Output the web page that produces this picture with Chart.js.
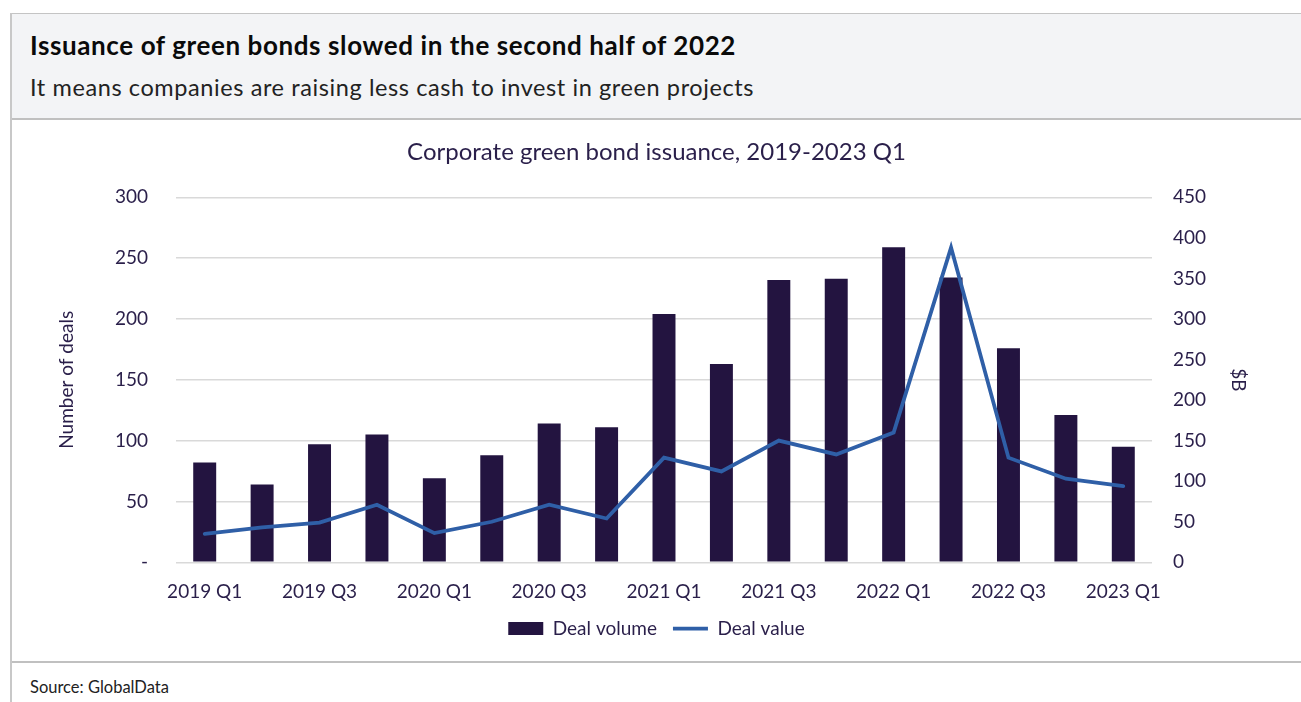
<!DOCTYPE html>
<html>
<head>
<meta charset="utf-8">
<script src="https://cdn.jsdelivr.net/npm/chart.js@4"></script>
<style>
  html, body { margin: 0; padding: 0; background: #ffffff; width: 1301px; height: 702px; overflow: hidden; }
  .abs { position: absolute; }
  #topline { left: 10px; top: 13px; width: 1291px; height: 1px; background: #c4c4c4; }
  #header { left: 12px; top: 14px; width: 1289px; height: 104px; background: #f3f4f6; }
  #midline { left: 10px; top: 118px; width: 1291px; height: 2px; background: #c0c0c0; }
  #botline { left: 10px; top: 661px; width: 1291px; height: 2px; background: #c0c0c0; }
  #leftline { left: 10px; top: 13px; width: 2px; height: 689px; background: #c8c8c8; }
  #title { left: 30px; top: 30px; font-family: Lato, sans-serif; font-weight: bold; font-size: 26px; letter-spacing: 0.6px; line-height: 1.2; color: #0a0a0a; white-space: nowrap; }
  #subtitle { left: 30px; top: 73px; font-family: Lato, sans-serif; font-size: 23.5px; letter-spacing: 0.6px; line-height: 1.2; color: #222222; white-space: nowrap; }
  #source { left: 30px; top: 678px; font-family: Lato, sans-serif; font-size: 16.5px; line-height: 1.2; color: #222222; white-space: nowrap; }
  #wrap { left: 12px; top: 120px; width: 1289px; height: 541px; }
</style>
</head>
<body>
<div class="abs" id="topline"></div>
<div class="abs" id="header"></div>
<div class="abs" id="midline"></div>
<div class="abs" id="botline"></div>
<div class="abs" id="leftline"></div>
<div class="abs" id="title">Issuance of green bonds slowed in the second half of 2022</div>
<div class="abs" id="subtitle">It means companies are raising less cash to invest in green projects</div>
<div class="abs" id="source">Source: GlobalData</div>
<div class="abs" id="wrap"><canvas id="c" width="1289" height="541"></canvas></div>
<script>
// ---- data ----
const categories = ["2019 Q1","2019 Q2","2019 Q3","2019 Q4","2020 Q1","2020 Q2","2020 Q3","2020 Q4","2021 Q1","2021 Q2","2021 Q3","2021 Q4","2022 Q1","2022 Q2","2022 Q3","2022 Q4","2023 Q1"];
const dealVolume = [82, 64, 97, 105, 69, 88, 114, 111, 204, 163, 232, 233, 259, 234, 176, 121, 95];
const dealValue = [35, 43, 49, 71, 36, 50, 71, 54, 129, 112, 150, 133, 160, 388, 129, 103, 94];
const leftTicks = [0, 50, 100, 150, 200, 250, 300];
const rightTicks = [0, 50, 100, 150, 200, 250, 300, 350, 400, 450];
const seriesNames = ["Deal volume", "Deal value"];
const chartTitle = "Corporate green bond issuance, 2019-2023 Q1";
const leftAxisTitle = "Number of deals";
const rightAxisTitle = "$B";

const textColor = '#2a1f4a';
const barColor = '#231440';
const lineColor = '#2f5fa7';
const gridColor = '#d9d9d9';
const FONT = 'Lato';

new Chart(document.getElementById('c'), {
  data: {
    labels: categories,
    datasets: [
      {
        type: 'bar', label: seriesNames[0], data: dealVolume, yAxisID: 'y',
        backgroundColor: barColor, borderWidth: 0,
        barPercentage: 0.4, categoryPercentage: 1.0, order: 1
      },
      {
        type: 'line', label: seriesNames[1], data: dealValue, yAxisID: 'y1',
        borderColor: lineColor, backgroundColor: lineColor, borderWidth: 3.8,
        pointRadius: 0, tension: 0, order: 0, borderCapStyle: 'round', borderJoinStyle: 'miter'
      }
    ]
  },
  options: {
    responsive: false,
    animation: false,
    devicePixelRatio: 1,
    layout: { padding: { left: 0, right: 0, top: 0, bottom: 12.9 } },
    plugins: {
      tooltip: { enabled: false },
      title: {
        display: true, text: chartTitle, color: textColor,
        font: { family: FONT, size: 24, weight: 'normal' },
        padding: { top: 17.6, bottom: 30.9 }
      },
      legend: {
        position: 'bottom',
        labels: {
          color: textColor,
          font: { family: FONT, size: 19 },
          usePointStyle: true, pointStyleWidth: 35, boxHeight: 13,
          padding: 16,
          sort: (a, b) => a.datasetIndex - b.datasetIndex,
          generateLabels: (chart) => {
            const items = Chart.defaults.plugins.legend.labels.generateLabels(chart);
            items.forEach(it => {
              if (it.datasetIndex === 0) { it.pointStyle = 'rect'; it.fillStyle = barColor; it.strokeStyle = barColor; it.lineWidth = 0; }
              else { it.pointStyle = 'line'; it.strokeStyle = lineColor; it.lineWidth = 3.8; }
            });
            return items;
          }
        }
      }
    },
    scales: {
      x: {
        grid: { display: false, drawTicks: false },
        border: { display: false },
        ticks: {
          color: textColor, font: { family: FONT, size: 19 },
          autoSkip: false, maxRotation: 0, minRotation: 0, padding: 18,
          callback: function(v, i) { return i % 2 === 0 ? categories[i] : ''; }
        },
        afterFit: (s) => { s.height = 40.8; }
      },
      y: {
        position: 'left', min: 0, max: 300,
        afterBuildTicks: (s) => { s.ticks = leftTicks.map(v => ({ value: v })); },
        grid: { color: gridColor, lineWidth: 1.5, drawTicks: false },
        border: { display: false },
        ticks: {
          color: textColor, font: { family: FONT, size: 19 }, padding: 28,
          callback: (v) => v === 0 ? '-' : String(v)
        },
        title: {
          display: true, text: leftAxisTitle, color: textColor,
          font: { family: FONT, size: 19 }, padding: { top: 43.6, bottom: 0 }
        },
        afterFit: (s) => { s.width = 164; }
      },
      y1: {
        position: 'right', min: 0, max: 450,
        afterBuildTicks: (s) => { s.ticks = rightTicks.map(v => ({ value: v })); },
        grid: { display: false, drawTicks: false },
        border: { display: false },
        ticks: { color: textColor, font: { family: FONT, size: 19 }, padding: 21 },
        title: {
          display: true, text: rightAxisTitle, color: textColor,
          font: { family: FONT, size: 19 }, padding: { top: 51.6, bottom: 0 }
        },
        afterFit: (s) => { s.width = 149; }
      }
    }
  }
});
</script>
</body>
</html>
